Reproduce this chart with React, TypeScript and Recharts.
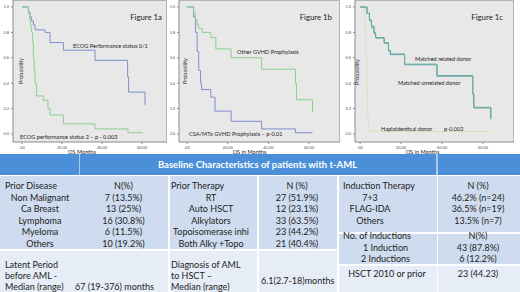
import React from "react";
import { LineChart, Line, XAxis, YAxis } from "recharts";

// Figure 1a – ECOG performance status
const ecog01Months = [0, 3.2, 4, 4.8, 5.7, 6.5, 11.5, 14, 20.7, 36.5, 52.8, 53.3, 61.5];
const ecog01Surv = [1, 0.96, 0.92, 0.89, 0.86, 0.82, 0.8, 0.72, 0.66, 0.58, 0.45, 0.33, 0.23];
const ecog2Months = [0, 3.2, 3.8, 4.3, 4.8, 5.3, 5.7, 6.1, 6.5, 7.3, 10.7, 13, 14, 20.7, 36.5, 53, 60.5];
const ecog2Surv = [1, 0.95, 0.9, 0.85, 0.8, 0.72, 0.6, 0.5, 0.4, 0.3, 0.265, 0.2, 0.15, 0.08, 0.04, 0.01, 0.01];

// Figure 1b – GVHD prophylaxis
const otherGvhdMonths = [0, 3.3, 4.2, 5, 5.8, 7.5, 11.7, 14.2, 21.7, 36.7, 53.3, 53.8, 61.7];
const otherGvhdSurv = [1, 0.95, 0.9, 0.86, 0.83, 0.8, 0.76, 0.67, 0.6, 0.51, 0.4, 0.27, 0.17];
const csaMtxMonths = [0, 3.3, 4.2, 5, 5.8, 6.7, 7.2, 11.7, 13.8, 21.7, 36.7, 53.3, 61.7];
const csaMtxSurv = [1, 0.92, 0.8, 0.65, 0.5, 0.4, 0.35, 0.29, 0.18, 0.1, 0.04, 0.01, 0.01];

// Figure 1c – donor type
const relatedMonths = [0, 3.3, 4.5, 5.5, 6.7, 7.5, 11.7, 13.8, 14.7, 21.7, 37.5, 55, 55.5, 63.8];
const relatedSurv = [1, 0.95, 0.9, 0.85, 0.8, 0.76, 0.72, 0.66, 0.63, 0.55, 0.46, 0.32, 0.21, 0.12];
const unrelatedMonths = [0, 3.4, 4.6, 5.6, 6.8, 7.6, 11.8, 13.9, 14.8, 21.8, 37.6, 55.1, 55.6, 63.9];
const unrelatedSurv = [1, 0.95, 0.89, 0.84, 0.79, 0.755, 0.715, 0.655, 0.625, 0.545, 0.455, 0.31, 0.205, 0.115];
const haploMonths = [0, 2.2, 2.7, 3.2, 3.6, 4.0, 4.6, 64];
const haploSurv = [1, 0.85, 0.6, 0.35, 0.15, 0.05, 0.02, 0.02];

const xTicks = [0, 20, 40, 60];
const yTicks = [0, 0.2, 0.4, 0.6, 0.8, 1.0];

// table text
const priorDisease = ["Non Malignant", "Ca Breast", "Lymphoma", "Myeloma", "Others"];
const priorDiseaseN = ["7 (13.5%)", "13 (25%)", "16 (30.8%)", "6 (11.5%)", "10 (19.2%)"];
const priorTherapy = ["RT", "Auto HSCT", "Alkylators", "Topoisomerase inhi", "Both Alky +Topo"];
const priorTherapyN = ["27 (51.9%)", "12 (23.1%)", "33 (63.5%)", "23 (44.2%)", "21 (40.4%)"];
const induction = ["7+3", "FLAG-IDA", "Others"];
const inductionN = ["46.2% (n=24)", "36.5% (n=19)", "13.5% (n=7)"];
const nInductions = ["1 Induction", "2 Inductions"];
const nInductionsN = ["43 (87.8%)", "6 (12.2%)"];

const toPoints = (m: number[], s: number[]) => m.map((v, i) => ({ m: v, s: s[i] }));

const Y_DOMAIN: [number, number] = [-0.063, 1.055];
const FONT = "Lato, 'Open Sans', sans-serif";

function KMPanel({
  left,
  width,
  yAxisWidth,
  xDomain,
  curves,
}: {
  left: number;
  width: number;
  yAxisWidth: number;
  xDomain: [number, number];
  curves: { data: { m: number; s: number }[]; color: string }[];
}) {
  return (
    <>
      <div
        style={{
          position: "absolute",
          left: left + yAxisWidth,
          top: 0,
          width: width - yAxisWidth,
          height: 142,
          background: "#e8e8e8",
          borderTop: "1px solid #b5b5b5",
          borderRight: "1px solid #b5b5b5",
          boxSizing: "border-box",
        }}
      />
      <div style={{ position: "absolute", left, top: 0 }}>
        <LineChart width={width} height={155} margin={{ top: 0, right: 0, bottom: 0, left: 0 }}>
          <XAxis
            dataKey="m"
            type="number"
            domain={xDomain}
            ticks={xTicks}
            allowDataOverflow
            height={13}
            tickSize={2}
            tickFormatter={(v: number) => (v === 0 ? ".00" : v.toFixed(2))}
            tick={{ fontSize: 4, fill: "#555", fontFamily: FONT }}
            axisLine={{ stroke: "#8a8a8a" }}
            tickLine={{ stroke: "#8a8a8a" }}
          />
          <YAxis
            type="number"
            domain={Y_DOMAIN}
            ticks={yTicks}
            allowDataOverflow
            width={yAxisWidth}
            tickSize={2}
            tickFormatter={(v: number) => v.toFixed(1)}
            tick={{ fontSize: 4, fill: "#555", fontFamily: FONT }}
            axisLine={{ stroke: "#8a8a8a" }}
            tickLine={{ stroke: "#8a8a8a" }}
          />
          {curves.map((c, i) => (
            <Line
              key={i}
              data={c.data}
              dataKey="s"
              type="stepAfter"
              stroke={c.color}
              strokeWidth={1}
              dot={false}
              isAnimationActive={false}
            />
          ))}
        </LineChart>
      </div>
    </>
  );
}

function T({
  x,
  y,
  children,
  align = "left",
  bold = false,
  color = "#1c1c1c",
  size = 9,
}: {
  x: number;
  y: number;
  children: React.ReactNode;
  align?: "left" | "center";
  bold?: boolean;
  color?: string;
  size?: number;
}) {
  return (
    <div
      style={{
        position: "absolute",
        left: x,
        top: y,
        transform: align === "center" ? "translate(-50%, -50%)" : "translateY(-50%)",
        whiteSpace: "nowrap",
        fontSize: size,
        fontWeight: bold ? 700 : 400,
        color,
        lineHeight: 1,
      }}
    >
      {children}
    </div>
  );
}

function Box({ x, y, w, h, bg }: { x: number; y: number; w: number; h: number; bg: string }) {
  return <div style={{ position: "absolute", left: x, top: y, width: w, height: h, background: bg }} />;
}

const LINE = 11.6;
const LINE2 = 11.1;
const DARK = "#cfdcef";
const LIGHT = "#e6edf7";

export default function App() {
  const ann = { fontFamily: FONT, fill: "#222" } as const;
  return (
    <div
      style={{
        position: "fixed",
        left: 0,
        top: 0,
        width: 520,
        height: 292,
        background: "#fff",
        overflow: "hidden",
        fontFamily: FONT,
      }}
    >
      <KMPanel
        left={0}
        width={167}
        yAxisWidth={13}
        xDomain={[-4.5, 72.5]}
        curves={[
          { data: toPoints(ecog01Months, ecog01Surv), color: "#7f8fca" },
          { data: toPoints(ecog2Months, ecog2Surv), color: "#8ccf8c" },
        ]}
      />
      <KMPanel
        left={170}
        width={170}
        yAxisWidth={9}
        xDomain={[-3.9, 75.2]}
        curves={[
          { data: toPoints(csaMtxMonths, csaMtxSurv), color: "#7f8fca" },
          { data: toPoints(otherGvhdMonths, otherGvhdSurv), color: "#8ccf8c" },
        ]}
      />
      <KMPanel
        left={343}
        width={171}
        yAxisWidth={12}
        xDomain={[-2.5, 75.2]}
        curves={[
          { data: toPoints(haploMonths, haploSurv), color: "#e3dcbc" },
          { data: toPoints(unrelatedMonths, unrelatedSurv), color: "#7490c6" },
          { data: toPoints(relatedMonths, relatedSurv), color: "#5db58c" },
        ]}
      />

      <svg width={520} height={156} style={{ position: "absolute", left: 0, top: 0 }}>
        <g dominantBaseline="central">
          <text x={162} y={17} fontSize={7.8} textAnchor="end" {...ann}>Figure 1a</text>
          <text x={73} y={45.5} fontSize={5.6} {...ann}>ECOG Performance status 0/1</text>
          <text x={20} y={136} fontSize={5.6} {...ann}>ECOG performance status 2 – p - 0.003</text>
          <text x={21} y={71} fontSize={5.5} textAnchor="middle" transform="rotate(-90 21 71)" {...ann}>Probability</text>
          <text x={82} y={151.5} fontSize={5.6} textAnchor="middle" {...ann}>OS Months</text>

          <text x={332} y={17} fontSize={7.8} textAnchor="end" {...ann}>Figure 1b</text>
          <text x={237} y={51.7} fontSize={5.6} {...ann}>Other GVHD Prophylaxis</text>
          <text x={189} y={133} fontSize={5.6} {...ann}>CSA/MTx GVHD Prophylaxis – p-0.01</text>
          <text x={185} y={71} fontSize={5.5} textAnchor="middle" transform="rotate(-90 185 71)" {...ann}>Probability</text>
          <text x={249.5} y={151.5} fontSize={5.6} textAnchor="middle" {...ann}>OS in Months</text>

          <text x={503} y={17} fontSize={7.8} textAnchor="end" {...ann}>Figure 1c</text>
          <text x={415} y={58.7} fontSize={5.6} {...ann}>Matched related donor</text>
          <text x={398} y={82} fontSize={5.6} {...ann}>Matched unrelated donor</text>
          <text x={381} y={128} fontSize={5.6} {...ann}>Haploidentical donor</text>
          <text x={444} y={128} fontSize={5.6} {...ann}>p-0.002</text>
          <text x={357} y={72} fontSize={5.5} textAnchor="middle" transform="rotate(-90 357 72)" {...ann}>Probability</text>
          <text x={422.5} y={151.5} fontSize={5.6} textAnchor="middle" {...ann}>OS in Months</text>
        </g>
      </svg>

      {/* table */}
      <Box x={0} y={154} w={520} h={21} bg="#4a8fd8" />
      <Box x={78.5} y={154} w={1.5} h={21} bg="#a9c9ee" />
      <Box x={436} y={154} w={1.5} h={21} bg="#a9c9ee" />
      <T x={257.5} y={164.5} align="center" bold color="#fff" size={9.5}>
        Baseline Characteristics of patients with t-AML
      </T>

      <Box x={0} y={176} w={168} h={73} bg={DARK} />
      <Box x={169.5} y={176} w={87.5} h={73} bg={DARK} />
      <Box x={258.5} y={176} w={78.5} h={73} bg={DARK} />
      <Box x={0} y={250.5} w={168} h={42} bg={LIGHT} />
      <Box x={169.5} y={250.5} w={87.5} h={42} bg={LIGHT} />
      <Box x={258.5} y={250.5} w={78.5} h={42} bg={LIGHT} />
      <Box x={338.5} y={176} w={98} h={56} bg={DARK} />
      <Box x={438} y={176} w={82} h={56} bg={DARK} />
      <Box x={338.5} y={233.5} w={98} h={30.5} bg={DARK} />
      <Box x={438} y={233.5} w={82} h={30.5} bg={DARK} />
      <Box x={338.5} y={265.5} w={98} h={27} bg={LIGHT} />
      <Box x={438} y={265.5} w={82} h={27} bg={LIGHT} />

      <T x={5} y={185}>Prior Disease</T>
      {priorDisease.map((s, i) => (
        <T key={s} x={40} y={185 + LINE * (i + 1)} align="center">{s}</T>
      ))}
      <T x={123.5} y={185} align="center">N(%)</T>
      {priorDiseaseN.map((s, i) => (
        <T key={s} x={123.5} y={185 + LINE * (i + 1)} align="center">{s}</T>
      ))}
      <T x={171} y={185}>Prior Therapy</T>
      {priorTherapy.map((s, i) => (
        <T key={s} x={211} y={185 + LINE * (i + 1)} align="center">{s}</T>
      ))}
      <T x={297} y={185} align="center">N (%)</T>
      {priorTherapyN.map((s, i) => (
        <T key={s} x={297} y={185 + LINE * (i + 1)} align="center">{s}</T>
      ))}
      <T x={343} y={185}>Induction Therapy</T>
      {induction.map((s, i) => (
        <T key={s} x={370} y={185 + LINE * (i + 1)} align="center">{s}</T>
      ))}
      <T x={478} y={185} align="center">N (%)</T>
      {inductionN.map((s, i) => (
        <T key={s} x={478} y={185 + LINE * (i + 1)} align="center">{s}</T>
      ))}
      <T x={343} y={235}>No. of Inductions</T>
      {nInductions.map((s, i) => (
        <T key={s} x={385.5} y={235 + LINE * (i + 1)} align="center">{s}</T>
      ))}
      <T x={478} y={235} align="center">N(%)</T>
      {nInductionsN.map((s, i) => (
        <T key={s} x={478} y={235 + LINE * (i + 1)} align="center">{s}</T>
      ))}
      <T x={387} y={273} align="center">HSCT 2010 or prior</T>
      <T x={478} y={273} align="center">23 (44.23)</T>

      <T x={5} y={264}>Latent Period</T>
      <T x={5} y={264 + LINE2}>before AML -</T>
      <T x={5} y={264 + LINE2 * 2}>Median (range)</T>
      <T x={75} y={264 + LINE2 * 2}>67 (19-376) months</T>
      <T x={171} y={264}>Diagnosis of AML</T>
      <T x={171} y={264 + LINE2}>to HSCT –</T>
      <T x={171} y={264 + LINE2 * 2}>Median (range)</T>
      <T x={261} y={280}>6.1(2.7-18)months</T>
    </div>
  );
}
